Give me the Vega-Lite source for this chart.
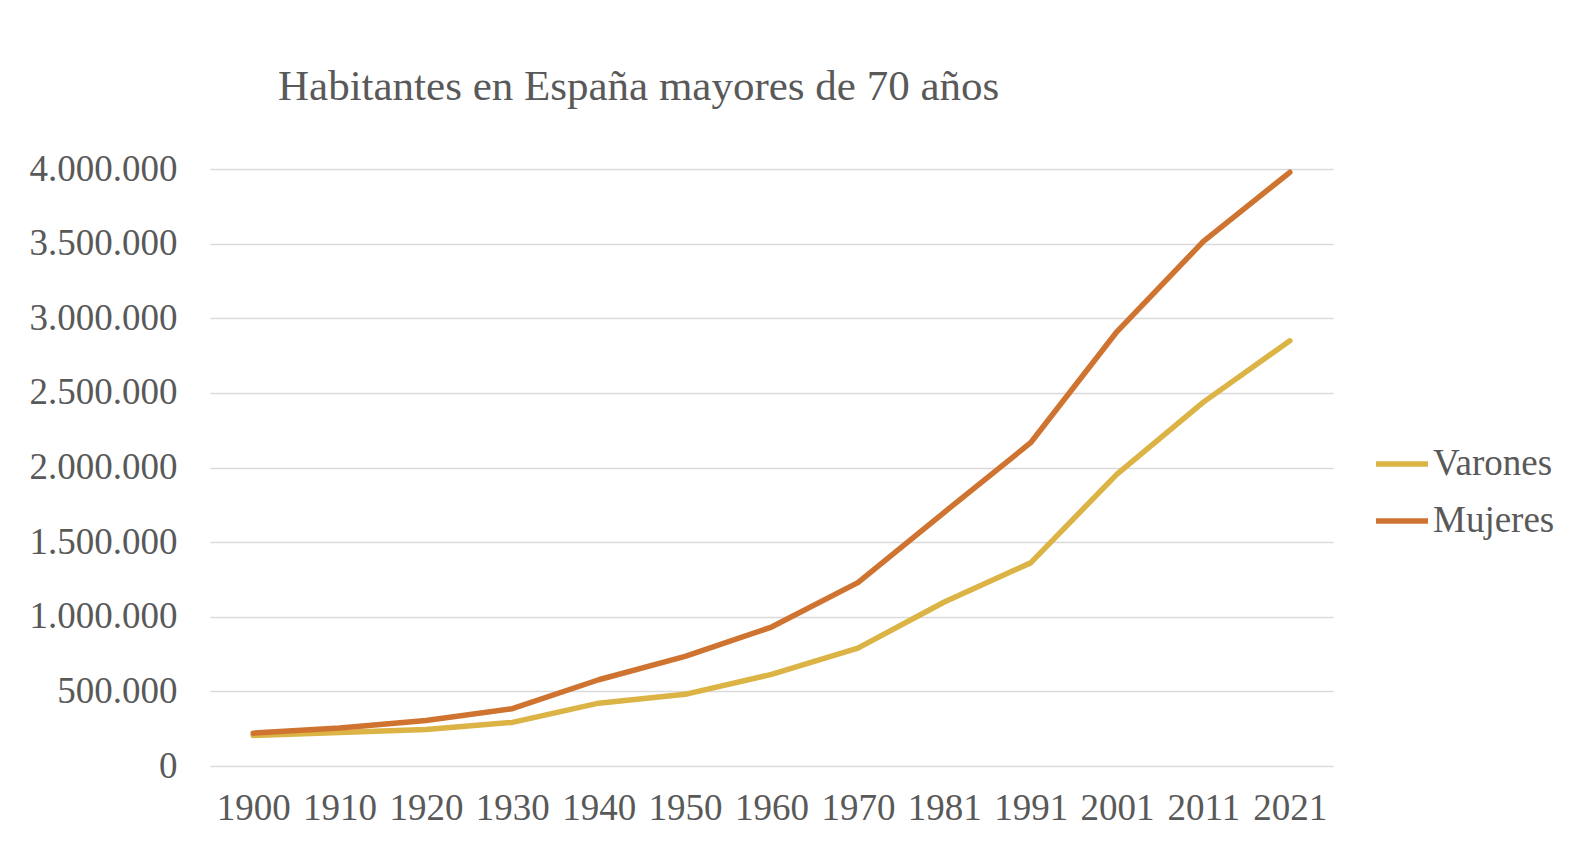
{
  "$schema": "https://vega.github.io/schema/vega-lite/v6.json",
  "width": 1123,
  "height": 597,
  "autosize": {"type": "none"},
  "padding": {"left": 210, "top": 169, "right": 237, "bottom": 78},
  "background": "white",
  "title": {
    "text": "Habitantes en España mayores de 70 años",
    "font": "Liberation Serif",
    "fontSize": 43,
    "fontWeight": "normal",
    "color": "#595959",
    "anchor": "start",
    "frame": "group",
    "dx": 68,
    "baseline": "alphabetic",
    "offset": 7
  },
  "data": {
    "values": [
      {"year": "1900", "sexo": "Varones", "valor": 205000},
      {"year": "1910", "sexo": "Varones", "valor": 225000},
      {"year": "1920", "sexo": "Varones", "valor": 245000},
      {"year": "1930", "sexo": "Varones", "valor": 292000},
      {"year": "1940", "sexo": "Varones", "valor": 421000},
      {"year": "1950", "sexo": "Varones", "valor": 480000},
      {"year": "1960", "sexo": "Varones", "valor": 614000},
      {"year": "1970", "sexo": "Varones", "valor": 790000},
      {"year": "1981", "sexo": "Varones", "valor": 1099000},
      {"year": "1991", "sexo": "Varones", "valor": 1361000},
      {"year": "2001", "sexo": "Varones", "valor": 1956000},
      {"year": "2011", "sexo": "Varones", "valor": 2438000},
      {"year": "2021", "sexo": "Varones", "valor": 2849000},
      {"year": "1900", "sexo": "Mujeres", "valor": 220000},
      {"year": "1910", "sexo": "Mujeres", "valor": 254000},
      {"year": "1920", "sexo": "Mujeres", "valor": 305000},
      {"year": "1930", "sexo": "Mujeres", "valor": 384000},
      {"year": "1940", "sexo": "Mujeres", "valor": 578000},
      {"year": "1950", "sexo": "Mujeres", "valor": 735000},
      {"year": "1960", "sexo": "Mujeres", "valor": 931000},
      {"year": "1970", "sexo": "Mujeres", "valor": 1229000},
      {"year": "1981", "sexo": "Mujeres", "valor": 1700000},
      {"year": "1991", "sexo": "Mujeres", "valor": 2166000},
      {"year": "2001", "sexo": "Mujeres", "valor": 2911000},
      {"year": "2011", "sexo": "Mujeres", "valor": 3515000},
      {"year": "2021", "sexo": "Mujeres", "valor": 3978000}
    ]
  },
  "mark": {"type": "line", "strokeWidth": 5.5, "strokeCap": "round", "strokeJoin": "round"},
  "encoding": {
    "x": {
      "field": "year",
      "type": "ordinal",
      "scale": {"type": "point", "padding": 0.5},
      "axis": {
        "title": null,
        "labelAngle": 0,
        "labelFont": "Liberation Serif",
        "labelFontSize": 37,
        "labelColor": "#595959",
        "labelPadding": 24,
        "ticks": false,
        "domain": false,
        "grid": false
      }
    },
    "y": {
      "field": "valor",
      "type": "quantitative",
      "scale": {"domain": [0, 4000000], "nice": false},
      "axis": {
        "title": null,
        "values": [0, 500000, 1000000, 1500000, 2000000, 2500000, 3000000, 3500000, 4000000],
        "labelExpr": "replace(format(datum.value, ','), /,/g, '.')",
        "labelFont": "Liberation Serif",
        "labelFontSize": 37,
        "labelColor": "#595959",
        "labelPadding": 33,
        "ticks": false,
        "domain": false,
        "grid": true,
        "gridColor": "#d9d9d9",
        "gridWidth": 1.5
      }
    },
    "color": {
      "field": "sexo",
      "type": "nominal",
      "scale": {"domain": ["Varones", "Mujeres"], "range": ["#DBB445", "#CF7430"]},
      "legend": {
        "title": null,
        "orient": "none",
        "legendX": 1163,
        "legendY": 266,
        "padding": 0,
        "symbolType": "stroke",
        "symbolSize": 2704,
        "symbolStrokeWidth": 5.5,
        "labelFont": "Liberation Serif",
        "labelFontSize": 37,
        "labelColor": "#595959",
        "labelOffset": 2,
        "rowPadding": 10
      }
    }
  },
  "config": {
    "view": {"stroke": null}
  }
}
